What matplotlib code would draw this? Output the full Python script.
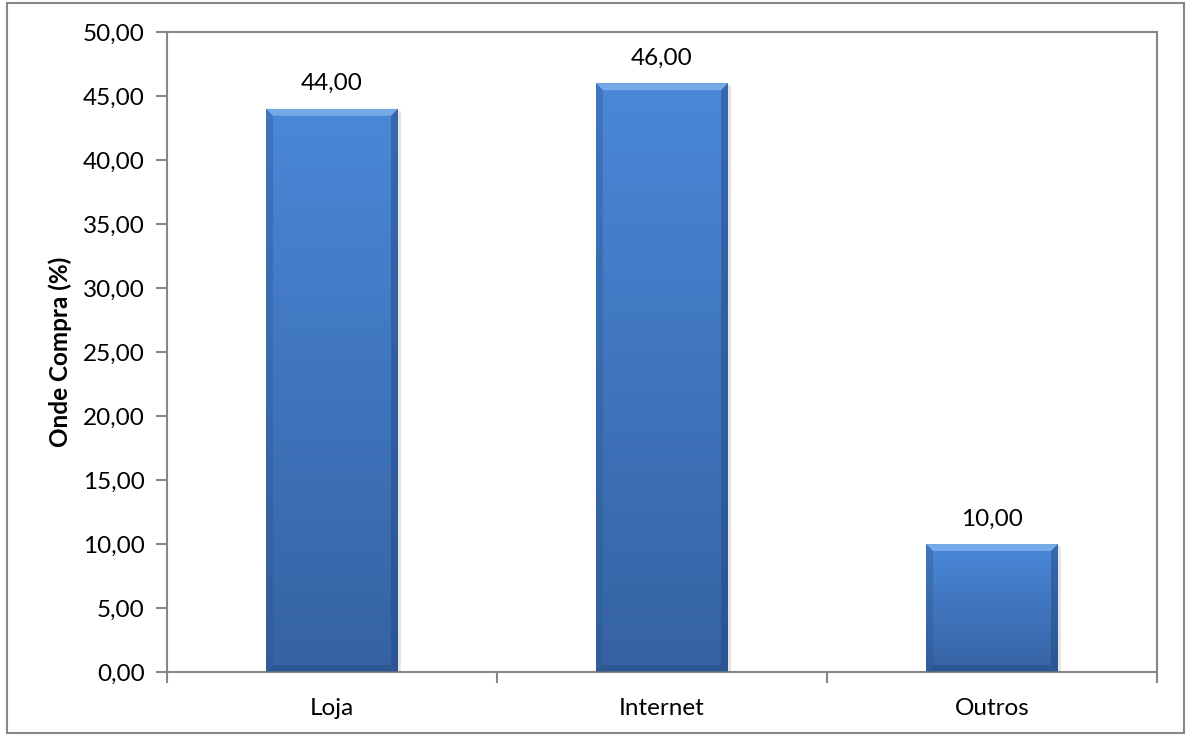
import numpy as np
import matplotlib.pyplot as plt
from matplotlib.colors import LinearSegmentedColormap
from matplotlib.patches import Polygon, Rectangle

# dados: onde o cliente compra
categorias = ['Loja', 'Internet', 'Outros']
valores = [44.00, 46.00, 10.00]
ticks_y = np.arange(0, 50.01, 5)

plt.rcParams['font.family'] = ['Lato', 'DejaVu Sans']

cinza = '#868686'
azul_topo = '#4a88d8'
azul_base = '#3562a2'
largura = 0.4
fs = 17.5

fig = plt.figure(figsize=(11.86, 7.35), dpi=100)
# moldura externa do gráfico
fig.patches.append(Rectangle((7 / 1186, 2 / 735), 1177 / 1186, 730 / 735,
                             transform=fig.transFigure, fill=False,
                             edgecolor=cinza, linewidth=1.5))

ax = fig.add_axes([167 / 1186, 63 / 735, 990 / 1186, 640 / 735])
ax.set_xlim(-0.5, 2.5)
ax.set_ylim(0, 50)

cmap = LinearSegmentedColormap.from_list('barra', [azul_base, azul_topo])
grad = np.linspace(0, 1, 256).reshape(-1, 1)

# escala de pixels para o chanfro das barras
px_x = 3 / 990
px_y = 50 / 640
bev = 7

for i, v in enumerate(valores):
    x0, x1 = i - largura / 2, i + largura / 2
    barra = ax.bar(i, v, width=largura, color='none', zorder=2)[0]
    # sombra leve
    ax.add_patch(Rectangle((x0 + 3 * px_x, -2 * px_y), largura, v,
                           facecolor='black', alpha=0.10, edgecolor='none',
                           zorder=1.5))
    img = ax.imshow(grad, extent=(x0, x1, 0, v), origin='lower', cmap=cmap,
                    aspect='auto', zorder=2)
    img.set_clip_path(barra)
    bx, by = bev * px_x, bev * px_y
    # chanfro superior (claro)
    ax.add_patch(Polygon([(x0, v), (x1, v), (x1 - bx, v - by), (x0 + bx, v - by)],
                         closed=True, facecolor='#8ab8f0', alpha=0.7,
                         edgecolor='none', zorder=3))
    # chanfro esquerdo
    ax.add_patch(Polygon([(x0, v), (x0 + bx, v - by), (x0 + bx, by), (x0, 0)],
                         closed=True, facecolor='#2c5590', alpha=0.35,
                         edgecolor='none', zorder=3))
    # chanfro direito
    ax.add_patch(Polygon([(x1, v), (x1 - bx, v - by), (x1 - bx, by), (x1, 0)],
                         closed=True, facecolor='#244a80', alpha=0.5,
                         edgecolor='none', zorder=3))
    # chanfro inferior
    ax.add_patch(Polygon([(x0, 0), (x1, 0), (x1 - bx, by), (x0 + bx, by)],
                         closed=True, facecolor='#244a80', alpha=0.45,
                         edgecolor='none', zorder=3))
    ax.text(i, v + 25 * px_y, f'{v:.2f}'.replace('.', ','), ha='center',
            va='center', fontsize=fs, color='black')

ax.set_yticks(ticks_y)
ax.set_yticklabels([f'{t:.2f}'.replace('.', ',') for t in ticks_y])
ax.set_xticks(range(len(categorias)))
ax.set_xticklabels(categorias)
ax.set_xticks([-0.5, 0.5, 1.5, 2.5], minor=True)
ax.tick_params(axis='x', which='major', length=0, pad=19, labelsize=fs)
ax.tick_params(axis='x', which='minor', length=8, width=1.5, color=cinza)
ax.tick_params(axis='y', length=8, width=1.5, color=cinza, pad=8, labelsize=fs)
for s in ax.spines.values():
    s.set_color(cinza)
    s.set_linewidth(1.5)

ax.set_ylabel('Onde Compra (%)', fontsize=fs, fontweight='bold', labelpad=8)

fig.savefig('out.png', dpi=100)
